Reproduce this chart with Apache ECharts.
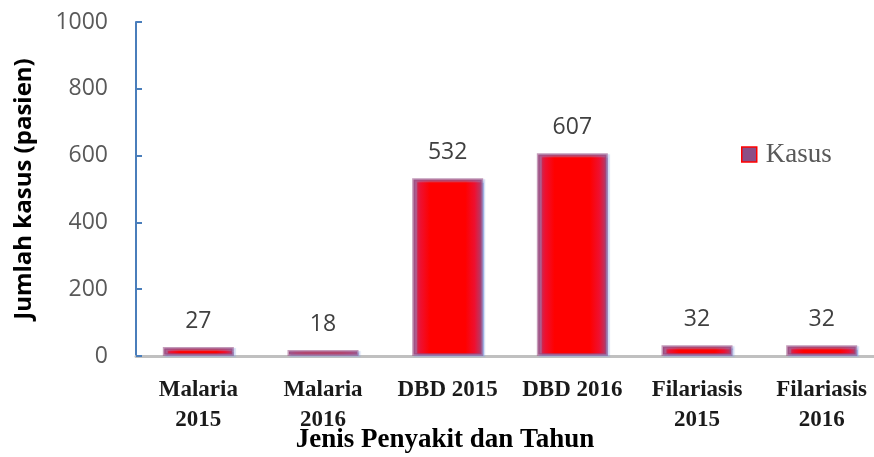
<!DOCTYPE html>
<html><head><meta charset="utf-8">
<script src="https://cdn.jsdelivr.net/npm/echarts@6/dist/echarts.min.js"></script>
<style>html,body{margin:0;padding:0;background:#fff}#c{width:874px;height:457px}</style>
</head><body><div id="c"></div>
<script>
const categories = ['Malaria\n2015', 'Malaria\n2016', 'DBD 2015', 'DBD 2016', 'Filariasis\n2015', 'Filariasis\n2016'];
const kasus = [27, 18, 532, 607, 32, 32];
const yTicks = [0, 200, 400, 600, 800, 1000];

const chart = echarts.init(document.getElementById('c'));
const barFill = {
  type: 'linear', x: 0, y: 0, x2: 1, y2: 0,
  colorStops: [
    { offset: 0, color: '#a0487a' },
    { offset: 0.12, color: '#ee1030' },
    { offset: 0.25, color: '#ff0000' },
    { offset: 0.75, color: '#ff0000' },
    { offset: 0.88, color: '#ee1030' },
    { offset: 1, color: '#a0487a' }
  ]
};
chart.setOption({
  animation: false,
  grid: { left: 136, top: 22, width: 748, height: 334, containLabel: false, outerBoundsMode: 'none' },
  legend: {
    show: true, left: 736, top: 136, itemWidth: 15, itemHeight: 15, itemGap: 6,
    icon: 'rect',
    textStyle: { fontFamily: 'Liberation Serif', fontSize: 27, color: '#595959', padding: [2, 0, 0, 4] },
    data: [{ name: 'Kasus', itemStyle: { color: '#8c4f86', borderColor: '#ff0000', borderWidth: 1.5 } }]
  },
  xAxis: {
    type: 'category', data: categories,
    name: 'Jenis Penyakit dan Tahun', nameLocation: 'middle', nameGap: 71, nameMoveOverlap: false,
    nameTextStyle: { fontFamily: 'Liberation Serif', fontWeight: 'bold', fontSize: 27, color: '#000', padding: [0, 0, 0, -130] },
    axisLine: { lineStyle: { color: '#c0c0c0', width: 3 } },
    axisTick: { show: false },
    axisLabel: { interval: 0, margin: 19, fontFamily: 'Liberation Serif', fontWeight: 'bold', fontSize: 23, lineHeight: 30, color: '#1a1a1a' }
  },
  yAxis: {
    type: 'value', min: 0, max: 1000, interval: 200,
    name: 'Jumlah kasus (pasien)', nameLocation: 'middle', nameGap: 100, nameMoveOverlap: false,
    nameTextStyle: { fontFamily: 'Open Sans', fontWeight: 'bold', fontSize: 24, color: '#000' },
    axisLine: { show: true, lineStyle: { color: '#4a7ebb', width: 2 } },
    axisTick: { show: true, inside: true, length: 6, lineStyle: { color: '#4a7ebb', width: 2 } },
    splitLine: { show: false },
    axisLabel: { margin: 28, fontFamily: 'Open Sans', fontSize: 23, color: '#595959',
      formatter: v => yTicks.includes(v) ? String(v) : '' }
  },
  series: [{
    name: 'Kasus', type: 'bar', data: kasus, barWidth: 71,
    itemStyle: { color: barFill, borderColor: 'rgba(150,75,130,0.55)', borderWidth: 3,
      shadowColor: 'rgba(140,170,230,0.7)', shadowOffsetX: 2, shadowOffsetY: 1, shadowBlur: 1 },
    label: { show: true, position: 'top', distance: 14, fontFamily: 'Open Sans', fontSize: 23, color: '#404040' }
  }]
});
</script></body></html>
